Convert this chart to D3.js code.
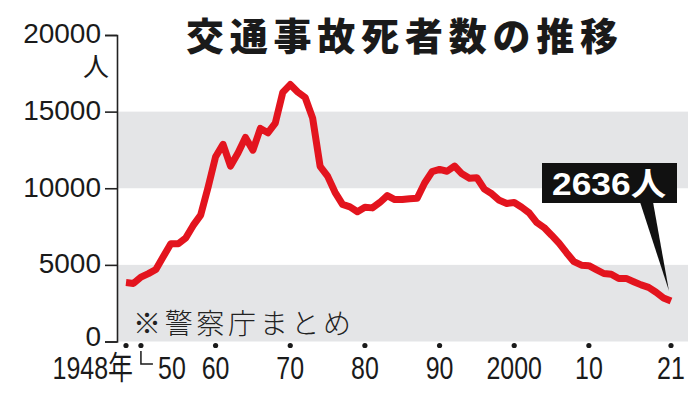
<!DOCTYPE html>
<html>
<head>
<meta charset="utf-8">
<script src="https://cdn.jsdelivr.net/npm/d3@7"></script>
<style>
  body { margin: 0; background: #fff; }
  svg { display: block; }
</style>
</head>
<body>
<div id="chart"></div>
<script>
// 交通事故死者数 (24時間), 1948-2021
const years = d3.range(1948, 2022);
const deaths = [
  3848, 3790, 4202, 4429, 4696, 5544, 6374, 6379, 6751, 7575,
  8248, 10079, 12055, 12865, 11445, 12301, 13318, 12484, 13904, 13618,
  14256, 16257, 16765, 16278, 15918, 14574, 11432, 10792, 9734, 8945,
  8783, 8466, 8760, 8719, 9073, 9520, 9262, 9261, 9317, 9347,
  10344, 11086, 11227, 11109, 11451, 10942, 10649, 10684, 9942, 9640,
  9211, 9006, 9073, 8757, 8396, 7768, 7436, 6937, 6415, 5796,
  5209, 4979, 4948, 4691, 4438, 4388, 4113, 4117, 3904, 3694,
  3532, 3215, 2839, 2636
];
const yTicks = [0, 5000, 10000, 15000, 20000];
const bands = [[0, 5000], [10000, 15000]];
const xTicks = [1948, 1950, 1960, 1970, 1980, 1990, 2000, 2010, 2021];
const xTickLabels = ["1948年", "50", "60", "70", "80", "90", "2000", "10", "21"];

const width = 700, height = 393;
const svg = d3.select("#chart").append("svg")
    .attr("width", width)
    .attr("height", height);

const x = d3.scaleLinear().domain([1948, 2021]).range([126, 671]);
const y = d3.scaleLinear().domain([0, 20000]).range([341.5, 35]);
const plotLeft = 117, plotRight = 688;

// gray bands
svg.selectAll(".band")
    .data(bands)
    .enter().append("rect")
    .attr("x", plotLeft)
    .attr("width", plotRight - plotLeft)
    .attr("y", d => y(d[1]))
    .attr("height", d => y(d[0]) - y(d[1]))
    .attr("fill", "#e4e5e7");

// source note
svg.append("text")
    .attr("x", 133)
    .attr("y", 322)
    .attr("dominant-baseline", "central")
    .attr("font-family", "'Noto Sans CJK JP', sans-serif")
    .attr("font-size", 28)
    .attr("font-weight", 300)
    .attr("fill", "#222")
    .attr("textLength", 218)
    .attr("lengthAdjust", "spacing")
    .text("※警察庁まとめ");

// y axis
const yAxis = svg.append("g")
    .attr("transform", `translate(${plotLeft},0)`)
    .call(d3.axisLeft(y).tickValues(yTicks).tickSize(12).tickSizeOuter(12).tickFormat(d3.format("d")));
yAxis.select(".domain").attr("stroke", "#222").attr("stroke-width", 1.6);
yAxis.selectAll(".tick line").attr("stroke", "#222").attr("stroke-width", 1.6);
yAxis.selectAll(".tick text")
    .attr("x", -16)
    .attr("y", d => d === 0 ? -4 : 0)
    .attr("dy", "0.28em")
    .attr("font-family", "'Liberation Sans', Arial, sans-serif")
    .attr("font-size", 28)
    .attr("fill", "#1a1a1a");

svg.append("text")
    .attr("x", 96)
    .attr("y", 64)
    .attr("text-anchor", "middle")
    .attr("dominant-baseline", "central")
    .attr("font-family", "'Noto Sans CJK JP', sans-serif")
    .attr("font-size", 26)
    .attr("fill", "#1a1a1a")
    .text("人");

// x tick dots
svg.selectAll(".xdot")
    .data(xTicks)
    .enter().append("circle")
    .attr("cx", d => x(d))
    .attr("cy", 345.5)
    .attr("r", 2.6)
    .attr("fill", "#1a1a1a");

// x tick labels (condensed)
const labelX = d => d === 1948 ? x(d) + 7 : d === 1950 ? x(d) + 31 : x(d);
svg.selectAll(".xlab")
    .data(xTicks)
    .enter().append("text")
    .attr("transform", d => `translate(${labelX(d)},368) scale(0.78,1)`)
    .attr("text-anchor", d => d === 1948 ? "end" : "middle")
    .attr("dominant-baseline", "central")
    .attr("font-family", "'Liberation Sans', 'Noto Sans CJK JP', sans-serif")
    .attr("font-size", 32)
    .attr("fill", "#1a1a1a")
    .text((d, i) => xTickLabels[i]);

// bracket from 1950 dot to its label
svg.append("path")
    .attr("d", `M${x(1950)},351V364H${x(1950) + 12}`)
    .attr("fill", "none")
    .attr("stroke", "#1a1a1a")
    .attr("stroke-width", 1.5);

// line
const line = d3.line()
    .x((d, i) => x(years[i]))
    .y(d => y(d));

svg.append("path")
    .datum(deaths)
    .attr("d", line)
    .attr("fill", "none")
    .attr("stroke", "#e3141e")
    .attr("stroke-width", 7)
    .attr("stroke-linejoin", "round")
    .attr("stroke-linecap", "butt");

// title
svg.append("text")
    .attr("x", 402)
    .attr("y", 33)
    .attr("text-anchor", "middle")
    .attr("dominant-baseline", "central")
    .attr("font-family", "'Noto Sans CJK JP', sans-serif")
    .attr("font-size", 38)
    .attr("font-weight", 900)
    .attr("fill", "#1a1a1a")
    .attr("textLength", 432)
    .attr("lengthAdjust", "spacing")
    .text("交通事故死者数の推移");

// callout for last value
const lastYear = years[years.length - 1];
const lastVal = deaths[deaths.length - 1];
const tipX = x(lastYear) - 2, tipY = y(lastVal) - 10;
svg.append("path")
    .attr("d", `M640,202L653,202L${tipX},${tipY}Z`)
    .attr("fill", "#111");
svg.append("rect")
    .attr("x", 542)
    .attr("y", 163)
    .attr("width", 135)
    .attr("height", 40)
    .attr("fill", "#111");
svg.append("text")
    .attr("x", 609)
    .attr("y", 184)
    .attr("text-anchor", "middle")
    .attr("dominant-baseline", "central")
    .attr("font-family", "'Liberation Sans', 'Noto Sans CJK JP', sans-serif")
    .attr("font-size", 32)
    .attr("font-weight", 700)
    .attr("fill", "#fff")
    .attr("textLength", 114)
    .attr("lengthAdjust", "spacingAndGlyphs")
    .text(`${lastVal}人`);
</script>
</body>
</html>
